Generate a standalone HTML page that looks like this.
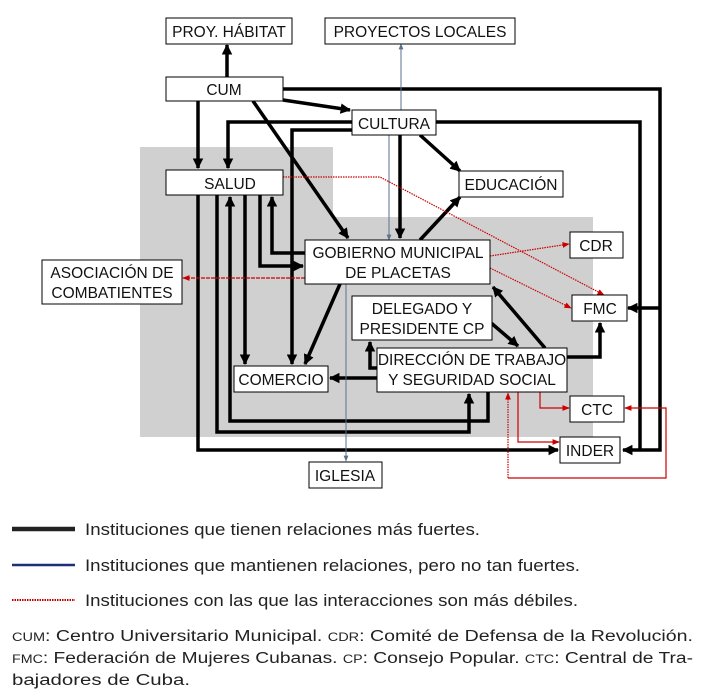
<!DOCTYPE html>
<html><head><meta charset="utf-8"><style>
html,body{margin:0;padding:0;background:#fff;}
svg{display:block;font-family:"Liberation Sans",Arial,sans-serif;}
</style></head><body>
<svg width="713" height="691" viewBox="0 0 713 691" xmlns="http://www.w3.org/2000/svg">
<defs>
<marker id="ab" viewBox="0 0 10 10" refX="9" refY="5" markerWidth="3" markerHeight="3" orient="auto"><path d="M0,0 L10,5 L0,10 z" fill="#000"/></marker>
<marker id="ar" viewBox="0 0 10 10" refX="9" refY="5" markerWidth="6" markerHeight="6" orient="auto"><path d="M0,1 L10,5 L0,9 z" fill="#c00"/></marker>
<marker id="au" viewBox="0 0 10 10" refX="9" refY="5" markerWidth="6" markerHeight="6" orient="auto"><path d="M0,1 L10,5 L0,9 z" fill="#5a7090"/></marker>
</defs>
<rect x="140" y="147" width="193" height="290" fill="#d0d0d0"/>
<rect x="333" y="217" width="260" height="220" fill="#d0d0d0"/>

<g stroke="#000" stroke-width="3.5" fill="none">
<path d="M227,77 V45" marker-end="url(#ab)"/>
<path d="M283,89 H660 V450 H623" marker-end="url(#ab)"/>
<path d="M660,308 H628" marker-end="url(#ab)"/>
<path d="M436,122 H640 V450"/>
<path d="M283,100 L350,110" marker-end="url(#ab)"/>
<path d="M253,101 L348,238" marker-end="url(#ab)"/>
<path d="M198,101 V168" marker-end="url(#ab)"/>
<path d="M352,122 H228 V168" marker-end="url(#ab)"/>
<path d="M352,130 H292 V364" marker-end="url(#ab)"/>
<path d="M400,135 V238" marker-end="url(#ab)"/>
<path d="M420,135 L460,171" marker-end="url(#ab)"/>
<path d="M420,240 L460,197" marker-end="url(#ab)"/>
<path d="M198,195 V450 H558" marker-end="url(#ab)"/>
<path d="M217,195 V432 H469 V394" marker-end="url(#ab)"/>
<path d="M488,392 V421 H230 V197" marker-end="url(#ab)"/>
<path d="M245,195 V364" marker-end="url(#ab)"/>
<path d="M260,195 V266 H303" marker-end="url(#ab)"/>
<path d="M305,253 H272 V197" marker-end="url(#ab)"/>
<path d="M340,284 L305,364" marker-end="url(#ab)"/>
<path d="M490,322 L518,346" marker-end="url(#ab)"/>
<path d="M377,368 H370 V342" marker-end="url(#ab)"/>
<path d="M545,348 L493,287" marker-end="url(#ab)"/>
<path d="M377,378 H330" marker-end="url(#ab)"/>
<path d="M567,357 H600 V323" marker-end="url(#ab)"/>
</g>

<g stroke="#5a7090" stroke-width="1" fill="none">
<path d="M401,110 V44" marker-end="url(#au)"/>
<path d="M389,135 V240" marker-end="url(#au)"/>
<path d="M346,284 V461" marker-end="url(#au)"/>
</g>

<g stroke="#c00" stroke-width="1.2" fill="none">
<path d="M283,177 H380 L604,295" stroke-dasharray="1.5,1" marker-end="url(#ar)"/>
<path d="M490,256 L569,244" stroke-dasharray="1.5,1" marker-end="url(#ar)"/>
<path d="M490,268 L571,308" stroke-dasharray="1.5,1" marker-end="url(#ar)"/>
<path d="M305,278 H183" stroke-dasharray="4,1" marker-end="url(#ar)"/>
<path d="M518,392 V442 H559" marker-end="url(#ar)"/>
<path d="M540,392 V408 H569" marker-end="url(#ar)"/>
<path d="M508,478 H666 V408 H625" marker-end="url(#ar)"/>
<path d="M508,478 V393" stroke-dasharray="1.5,1" marker-end="url(#ar)"/>
</g>

<g fill="#fff" stroke="#000" stroke-width="1">
<rect x="166" y="18" width="126" height="26"/>
<rect x="325" y="18" width="190" height="26"/>
<rect x="166" y="77" width="117" height="24"/>
<rect x="352" y="110" width="84" height="25"/>
<rect x="166" y="170" width="117" height="25"/>
<rect x="459" y="171" width="104" height="26"/>
<rect x="305" y="240" width="185" height="44"/>
<rect x="570" y="232" width="53" height="26"/>
<rect x="42" y="260" width="140" height="44"/>
<rect x="572" y="295" width="55" height="26"/>
<rect x="352" y="296" width="140" height="44"/>
<rect x="377" y="348" width="190" height="44"/>
<rect x="234" y="366" width="94" height="26"/>
<rect x="570" y="396" width="54" height="26"/>
<rect x="560" y="437" width="60" height="26"/>
<rect x="309" y="462" width="73" height="26"/>
</g>

<g font-size="15.5" fill="#111" text-anchor="middle">
<text x="229" y="37">PROY. HÁBITAT</text>
<text x="420" y="37">PROYECTOS LOCALES</text>
<text x="224" y="95">CUM</text>
<text x="394" y="129">CULTURA</text>
<text x="230" y="189">SALUD</text>
<text x="511" y="190">EDUCACIÓN</text>
<text x="398" y="258">GOBIERNO MUNICIPAL</text>
<text x="398" y="278">DE PLACETAS</text>
<text x="596" y="251">CDR</text>
<text x="112" y="278">ASOCIACIÓN DE</text>
<text x="112" y="298">COMBATIENTES</text>
<text x="600" y="314">FMC</text>
<text x="422" y="314">DELEGADO Y</text>
<text x="422" y="334">PRESIDENTE CP</text>
<text x="472" y="365">DIRECCIÓN DE TRABAJO</text>
<text x="472" y="385">Y SEGURIDAD SOCIAL</text>
<text x="281" y="385">COMERCIO</text>
<text x="597" y="415">CTC</text>
<text x="590" y="456">INDER</text>
<text x="345" y="481">IGLESIA</text>
</g>

<line x1="12" y1="529" x2="75" y2="529" stroke="#222" stroke-width="4.5"/>
<line x1="12" y1="565" x2="75" y2="565" stroke="#1c2f7a" stroke-width="2.5"/>
<line x1="12" y1="600" x2="75" y2="600" stroke="#c00" stroke-width="2" stroke-dasharray="1.5,1"/>
<g font-size="16.5" fill="#222">
<text x="85" y="535" textLength="395" lengthAdjust="spacingAndGlyphs">Instituciones que tienen relaciones más fuertes.</text>
<text x="85" y="571" textLength="495" lengthAdjust="spacingAndGlyphs">Instituciones que mantienen relaciones, pero no tan fuertes.</text>
<text x="85" y="606" textLength="493" lengthAdjust="spacingAndGlyphs">Instituciones con las que las interacciones son más débiles.</text>
</g>
<g font-size="15.5" fill="#222">
<text x="12" y="641" textLength="681" lengthAdjust="spacingAndGlyphs"><tspan font-size="11.5">CUM</tspan>: Centro Universitario Municipal. <tspan font-size="11.5">CDR</tspan>: Comité de Defensa de la Revolución.</text>
<text x="12" y="663" textLength="681" lengthAdjust="spacingAndGlyphs"><tspan font-size="11.5">FMC</tspan>: Federación de Mujeres Cubanas. <tspan font-size="11.5">CP</tspan>: Consejo Popular. <tspan font-size="11.5">CTC</tspan>: Central de Tra-</text>
<text x="12" y="685" textLength="178" lengthAdjust="spacingAndGlyphs">bajadores de Cuba.</text>
</g>
</svg>
</body></html>
